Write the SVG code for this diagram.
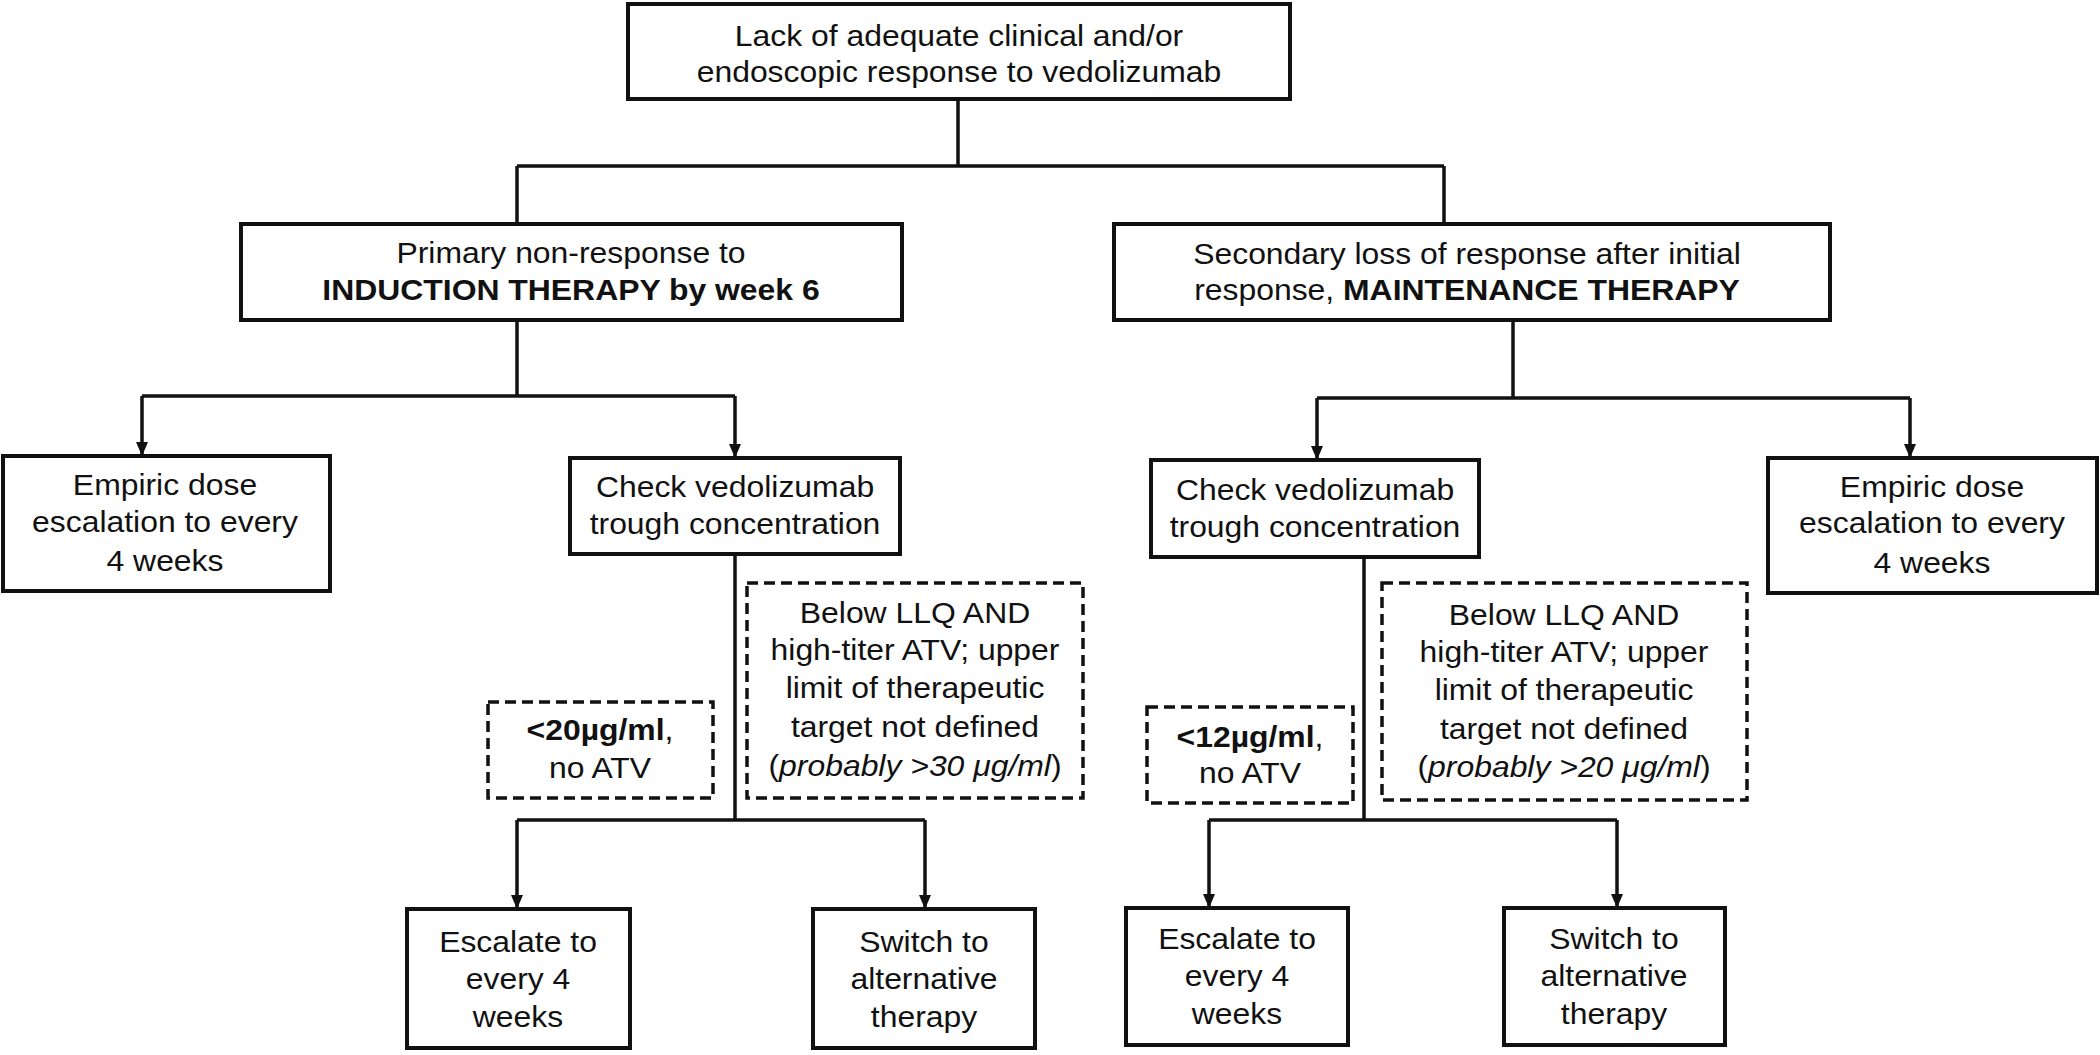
<svg xmlns="http://www.w3.org/2000/svg" width="2100" height="1055" viewBox="0 0 2100 1055">
<style>
.box{fill:#fff;stroke:#111;stroke-width:4}
.dash{fill:#fff;stroke:#111;stroke-width:3.5;stroke-dasharray:11 6}
.ln{fill:none;stroke:#111;stroke-width:3.5}
.t{font-family:"Liberation Sans",Arial,Helvetica,sans-serif;font-size:29px;fill:#111;text-anchor:middle}
.b{font-weight:bold}
.i{font-style:italic}
</style>
<defs>
<marker id="arr" viewBox="0 0 14 12" refX="14" refY="6" markerWidth="14" markerHeight="12" markerUnits="userSpaceOnUse" orient="auto">
<path d="M0,0 L14,6 L0,12 z" fill="#111"/>
</marker>
</defs>
<rect width="2100" height="1055" fill="#fff"/>
<g id="connectors">
<path class="ln" d="M958 99 V166 M517 166 H1444 M517 166 V224 M1444 166 V224"/>
<path class="ln" d="M517 320 V396 M142 396 H735"/>
<path class="ln" d="M142 396 V456" marker-end="url(#arr)"/>
<path class="ln" d="M735 396 V458" marker-end="url(#arr)"/>
<path class="ln" d="M1513 320 V398 M1317 398 H1910"/>
<path class="ln" d="M1317 398 V460" marker-end="url(#arr)"/>
<path class="ln" d="M1910 398 V458" marker-end="url(#arr)"/>
<path class="ln" d="M735 554 V820 M517 820 H925"/>
<path class="ln" d="M517 820 V909" marker-end="url(#arr)"/>
<path class="ln" d="M925 820 V909" marker-end="url(#arr)"/>
<path class="ln" d="M1364 557 V820 M1209 820 H1617"/>
<path class="ln" d="M1209 820 V908" marker-end="url(#arr)"/>
<path class="ln" d="M1617 820 V908" marker-end="url(#arr)"/>
</g>
<g id="n-top">
<rect class="box" x="628" y="4" width="662" height="95"/>
<text class="t" transform="translate(959 0) scale(1.1 1)"><tspan x="0" y="46">Lack of adequate clinical and/or</tspan><tspan x="0" y="82">endoscopic response to vedolizumab</tspan></text>
</g>
<g id="n-primary">
<rect class="box" x="241" y="224" width="661" height="96"/>
<text class="t" transform="translate(571 0) scale(1.1 1)"><tspan x="0" y="263">Primary non-response to</tspan><tspan x="0" y="300" class="b">INDUCTION THERAPY by week 6</tspan></text>
</g>
<g id="n-secondary">
<rect class="box" x="1114" y="224" width="716" height="96"/>
<text class="t" transform="translate(1467 0) scale(1.1 1)"><tspan x="0" y="264">Secondary loss of response after initial</tspan><tspan x="0" y="300">response, <tspan class="b">MAINTENANCE THERAPY</tspan></tspan></text>
</g>
<g id="n-empiric-left">
<rect class="box" x="3" y="456" width="327" height="135"/>
<text class="t" transform="translate(165 0) scale(1.1 1)"><tspan x="0" y="495">Empiric dose</tspan><tspan x="0" y="532">escalation to every</tspan><tspan x="0" y="571">4 weeks</tspan></text>
</g>
<g id="n-check-left">
<rect class="box" x="570" y="458" width="330" height="96"/>
<text class="t" transform="translate(735 0) scale(1.1 1)"><tspan x="0" y="497">Check vedolizumab</tspan><tspan x="0" y="534">trough concentration</tspan></text>
</g>
<g id="n-check-right">
<rect class="box" x="1151" y="460" width="328" height="97"/>
<text class="t" transform="translate(1315 0) scale(1.1 1)"><tspan x="0" y="500">Check vedolizumab</tspan><tspan x="0" y="537">trough concentration</tspan></text>
</g>
<g id="n-empiric-right">
<rect class="box" x="1768" y="458" width="329" height="135"/>
<text class="t" transform="translate(1932 0) scale(1.1 1)"><tspan x="0" y="497">Empiric dose</tspan><tspan x="0" y="533">escalation to every</tspan><tspan x="0" y="573">4 weeks</tspan></text>
</g>
<g id="n-low-left">
<rect class="dash" x="488" y="702" width="225" height="96"/>
<text class="t" transform="translate(600 0) scale(1.1 1)"><tspan x="0" y="740"><tspan class="b">&lt;20µg/ml</tspan>,</tspan><tspan x="0" y="778">no ATV</tspan></text>
</g>
<g id="n-llq-left">
<rect class="dash" x="747" y="583" width="336" height="215"/>
<text class="t" transform="translate(915 0) scale(1.1 1)"><tspan x="0" y="623">Below LLQ AND</tspan><tspan x="0" y="660">high-titer ATV; upper</tspan><tspan x="0" y="698">limit of therapeutic</tspan><tspan x="0" y="737">target not defined</tspan><tspan x="0" y="776">(<tspan class="i">probably &gt;30 μg/ml</tspan>)</tspan></text>
</g>
<g id="n-low-right">
<rect class="dash" x="1147" y="707" width="206" height="96"/>
<text class="t" transform="translate(1250 0) scale(1.1 1)"><tspan x="0" y="747"><tspan class="b">&lt;12µg/ml</tspan>,</tspan><tspan x="0" y="783">no ATV</tspan></text>
</g>
<g id="n-llq-right">
<rect class="dash" x="1382" y="583" width="365" height="217"/>
<text class="t" transform="translate(1564 0) scale(1.1 1)"><tspan x="0" y="625">Below LLQ AND</tspan><tspan x="0" y="662">high-titer ATV; upper</tspan><tspan x="0" y="700">limit of therapeutic</tspan><tspan x="0" y="739">target not defined</tspan><tspan x="0" y="777">(<tspan class="i">probably &gt;20 μg/ml</tspan>)</tspan></text>
</g>
<g id="n-escalate-left">
<rect class="box" x="407" y="909" width="223" height="139"/>
<text class="t" transform="translate(518 0) scale(1.1 1)"><tspan x="0" y="952">Escalate to</tspan><tspan x="0" y="989">every 4</tspan><tspan x="0" y="1027">weeks</tspan></text>
</g>
<g id="n-switch-left">
<rect class="box" x="813" y="909" width="222" height="139"/>
<text class="t" transform="translate(924 0) scale(1.1 1)"><tspan x="0" y="952">Switch to</tspan><tspan x="0" y="989">alternative</tspan><tspan x="0" y="1027">therapy</tspan></text>
</g>
<g id="n-escalate-right">
<rect class="box" x="1126" y="908" width="222" height="137"/>
<text class="t" transform="translate(1237 0) scale(1.1 1)"><tspan x="0" y="949">Escalate to</tspan><tspan x="0" y="986">every 4</tspan><tspan x="0" y="1024">weeks</tspan></text>
</g>
<g id="n-switch-right">
<rect class="box" x="1504" y="908" width="221" height="137"/>
<text class="t" transform="translate(1614 0) scale(1.1 1)"><tspan x="0" y="949">Switch to</tspan><tspan x="0" y="986">alternative</tspan><tspan x="0" y="1024">therapy</tspan></text>
</g>
</svg>
